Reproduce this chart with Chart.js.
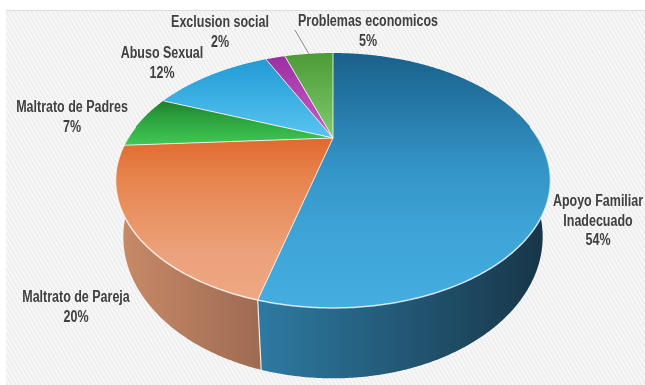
<!DOCTYPE html>
<html>
<head>
<meta charset="utf-8">
<script src="https://cdn.jsdelivr.net/npm/chart.js@4/dist/chart.umd.min.js"></script>
<style>
  html, body { margin: 0; padding: 0; background: #ffffff; }
  canvas { display: block; }
</style>
</head>
<body>
<canvas id="pie" width="645" height="385"></canvas>
<script>
// Causes and their share (%)
const categories = [
  ['Apoyo Familiar', 'Inadecuado'],
  'Maltrato de Pareja',
  'Maltrato de Padres',
  'Abuso Sexual',
  'Exclusion social',
  'Problemas economicos'
];
const shares = [54, 20, 7, 12, 2, 5];

// Top face shading: [fraction of pie height, colour]
const topShades = [
  [[0, '#19608a'], [0.45, '#3494c7'], [0.7, '#3ea4d7'], [1, '#45addf']],
  [[0.3, '#df6429'], [0.5, '#e7854f'], [0.78, '#eca17a'], [1, '#eea984']],
  [[0.15, '#176a26'], [0.25, '#2b9f3c'], [0.36, '#40c855']],
  [[0, '#1f96d2'], [0.18, '#3cb0e4'], [0.34, '#5bc6f0']],
  [[0, '#9a2ea0'], [0.33, '#c95ccd']],
  [[0, '#4b9b37'], [0.34, '#82cc6e']]
];
// Side wall shading, left to right
const sideShades = [
  ['#2e7aa2', '#173446'],
  ['#c98b68', '#9f6b53'],
  ['#1d7a2c', '#155c20'],
  ['#2b8fc0', '#1f6f98'],
  ['#8e2a94', '#6f1f74'],
  ['#4f9a3c', '#3d7a2e']
];
// Where each caption sits (centre x, first line y)
const labelAnchors = [[598, 202], [76, 298], [72, 108], [162, 54], [220, 23], [368, 22]];
// Captions that get a leader line back to their slice
const leaderFrom = { 5: [295, 30] };

// Perspective view of the disc
const VIEW = { cx: 333, cy: 138, sx: 205, sy: 113.3, k: -1 / 3, thick: 0.033, vy: 1800, top: 53, bottom: 308 };

function proj(a) {
  const u = Math.cos(a), v = Math.sin(a), w = 1 + VIEW.k * v;
  return { x: VIEW.cx + VIEW.sx * u / w, y: VIEW.cy + VIEW.sy * v / w, w };
}
function lower(p) {
  const l = p.w / (p.w + VIEW.thick);
  return { x: VIEW.cx + (p.x - VIEW.cx) * l, y: VIEW.vy + (p.y - VIEW.vy) * l };
}
function arcPoints(a1, a2) {
  const n = Math.max(2, Math.ceil((a2 - a1) / 0.01));
  const pts = [];
  for (let i = 0; i <= n; i++) pts.push(proj(a1 + (a2 - a1) * i / n));
  return pts;
}

// narrow bold captions: Arial-metric bold squeezed horizontally
const FONT = "bold 16px 'Liberation Sans', Arial, sans-serif";
const SQUEEZE = 0.78;

const backdrop = {
  id: 'backdrop',
  beforeDraw(chart) {
    const ctx = chart.ctx, W = chart.width, H = chart.height;
    ctx.save();
    ctx.fillStyle = '#ffffff';
    ctx.fillRect(0, 0, W, H);
    ctx.beginPath();
    ctx.rect(6, 10, W - 6, H - 10);
    ctx.clip();
    ctx.fillStyle = '#eeeeee';
    ctx.fillRect(6, 10, W - 6, H - 10);
    ctx.strokeStyle = '#f9f9f9';
    ctx.lineWidth = 1.6;
    const slope = 1.7;
    for (let x0 = -400; x0 < W + 10; x0 += 4.2) {
      ctx.beginPath();
      ctx.moveTo(x0, 10);
      ctx.lineTo(x0 + (H - 10) / slope, H);
      ctx.stroke();
    }
    ctx.strokeStyle = '#dddddd';
    ctx.lineWidth = 1;
    ctx.beginPath();
    ctx.moveTo(6, 10.5);
    ctx.lineTo(W, 10.5);
    ctx.stroke();
    ctx.restore();
  }
};

const pie3d = {
  id: 'pie3d',
  beforeDatasetsDraw(chart) {
    const ctx = chart.ctx;
    const arcs = chart.getDatasetMeta(0).data;
    ctx.save();

    // side walls (front half only)
    arcs.forEach((arc, i) => {
      const a1 = Math.max(arc.startAngle, 0), a2 = Math.min(arc.endAngle, Math.PI);
      if (a2 <= a1) return;
      const top = arcPoints(a1, a2);
      const bot = top.map(lower).reverse();
      ctx.beginPath();
      top.forEach((p, j) => j ? ctx.lineTo(p.x, p.y) : ctx.moveTo(p.x, p.y));
      bot.forEach(p => ctx.lineTo(p.x, p.y));
      ctx.closePath();
      const xs = top.map(p => p.x);
      const g = ctx.createLinearGradient(Math.min(...xs), 0, Math.max(...xs), 0);
      g.addColorStop(0, sideShades[i][0]);
      g.addColorStop(1, sideShades[i][1]);
      ctx.fillStyle = g;
      ctx.fill();
    });

    // seams on the wall where slices meet
    ctx.strokeStyle = 'rgba(255,255,255,0.85)';
    ctx.lineWidth = 1.2;
    arcs.forEach(arc => {
      const a = arc.startAngle;
      if (a > 0.01 && a < Math.PI - 0.01) {
        const p = proj(a), q = lower(p);
        ctx.beginPath();
        ctx.moveTo(p.x, p.y);
        ctx.lineTo(q.x, q.y);
        ctx.stroke();
      }
    });

    // top faces
    arcs.forEach((arc, i) => {
      const pts = arcPoints(arc.startAngle, arc.endAngle);
      ctx.beginPath();
      ctx.moveTo(VIEW.cx, VIEW.cy);
      pts.forEach(p => ctx.lineTo(p.x, p.y));
      ctx.closePath();
      const g = ctx.createLinearGradient(0, VIEW.top, 0, VIEW.bottom);
      topShades[i].forEach(([f, c]) => g.addColorStop(f, c));
      ctx.fillStyle = g;
      ctx.fill();
    });
    ctx.strokeStyle = 'rgba(255,255,255,0.8)';
    ctx.lineWidth = 1;
    arcs.forEach(arc => {
      const p = proj(arc.startAngle);
      ctx.beginPath();
      ctx.moveTo(VIEW.cx, VIEW.cy);
      ctx.lineTo(p.x, p.y);
      ctx.stroke();
    });

    // light rim along the front edge
    const rim = arcPoints(-0.1, Math.PI + 0.1);
    ctx.strokeStyle = 'rgba(255,255,255,0.75)';
    ctx.lineWidth = 1.5;
    ctx.beginPath();
    rim.forEach((p, j) => j ? ctx.lineTo(p.x, p.y) : ctx.moveTo(p.x, p.y));
    ctx.stroke();

    // captions
    const total = shares.reduce((s, v) => s + v, 0);
    arcs.forEach((arc, i) => {
      const name = categories[i];
      const lines = (Array.isArray(name) ? name.slice() : [name]);
      lines.push(Math.round(shares[i] / total * 100) + '%');
      const [lx, ly] = labelAnchors[i];
      ctx.save();
      ctx.translate(lx, ly);
      ctx.scale(SQUEEZE, 1);
      ctx.font = FONT;
      ctx.fillStyle = '#404040';
      ctx.textAlign = 'center';
      ctx.textBaseline = 'middle';
      lines.forEach((t, j) => ctx.fillText(t, 0, j * 19.5));
      ctx.restore();
      if (leaderFrom[i]) {
        const mid = proj((arc.startAngle + arc.endAngle) / 2);
        ctx.strokeStyle = '#8a8a8a';
        ctx.lineWidth = 1;
        ctx.beginPath();
        ctx.moveTo(leaderFrom[i][0], leaderFrom[i][1]);
        ctx.lineTo(mid.x, mid.y);
        ctx.stroke();
      }
    });

    ctx.restore();
    return false;
  }
};

new Chart(document.getElementById('pie'), {
  type: 'pie',
  data: {
    labels: categories,
    datasets: [{ data: shares }]
  },
  options: {
    responsive: false,
    devicePixelRatio: 1,
    animation: false,
    events: [],
    plugins: { legend: { display: false }, tooltip: { enabled: false }, title: { display: false } }
  },
  plugins: [backdrop, pie3d]
});
</script>
</body>
</html>
